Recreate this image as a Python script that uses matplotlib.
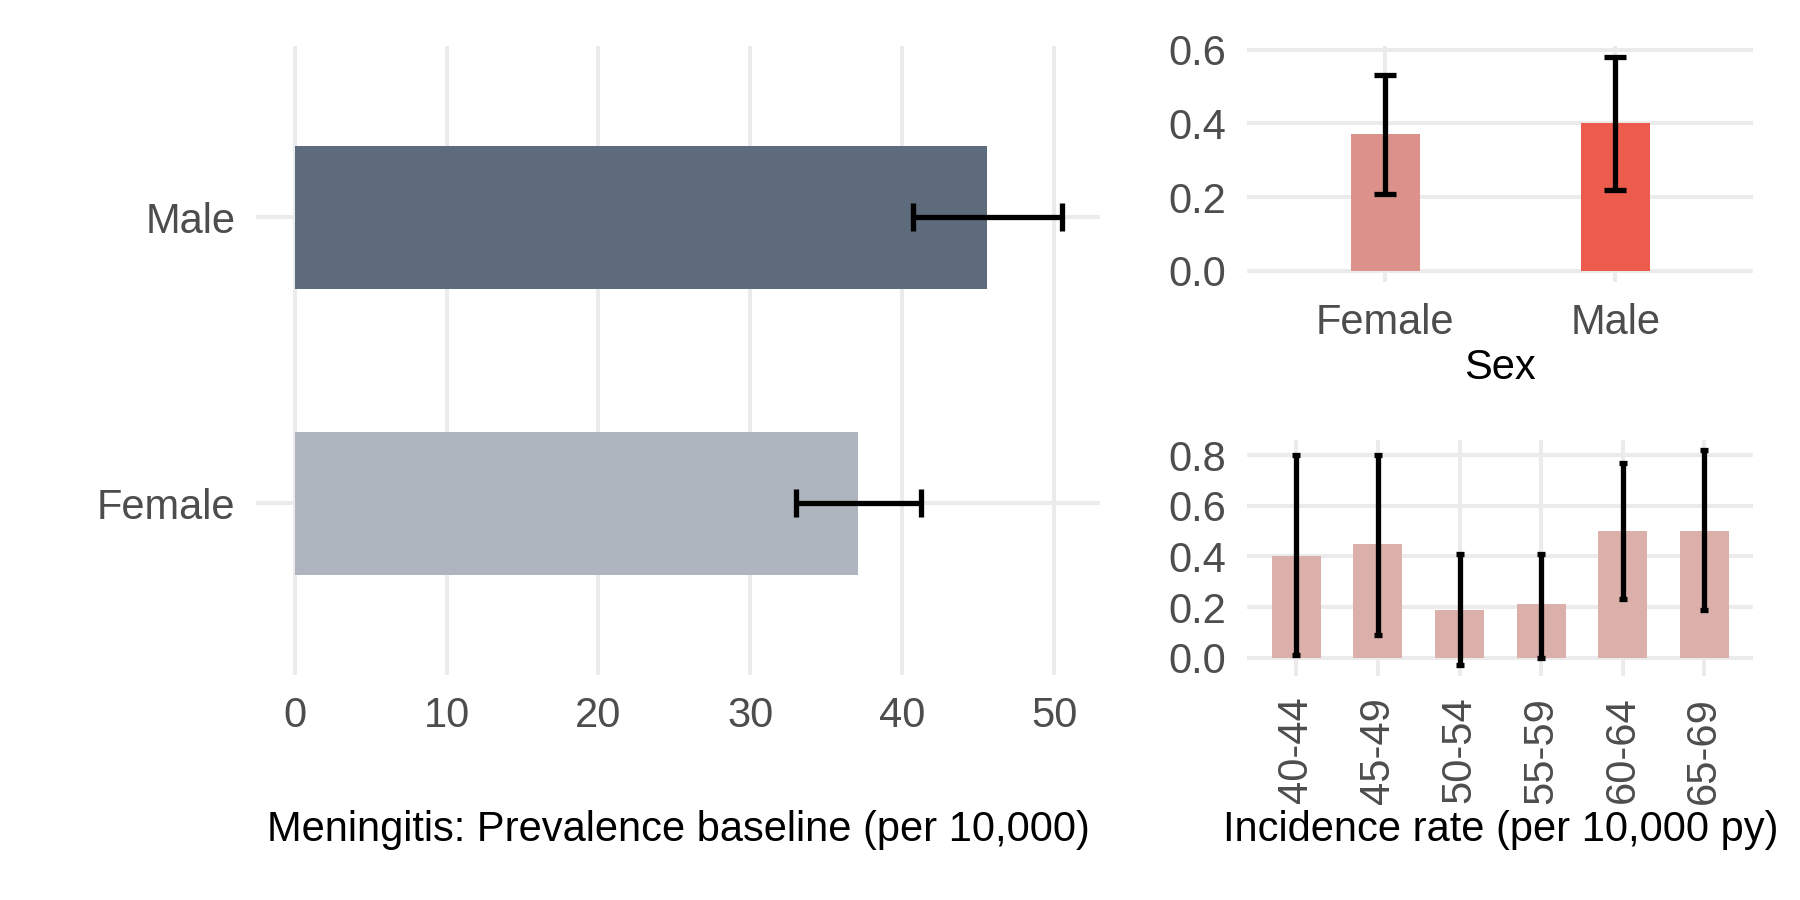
import matplotlib
matplotlib.use('Agg')
import matplotlib.pyplot as plt

plt.rcParams['font.family'] = ['Liberation Sans', 'DejaVu Sans']

# prevalence baseline (per 10,000)
prev_sex = ['Female', 'Male']
prev_val = [37.1, 45.6]
prev_lo = [33.0, 40.7]
prev_hi = [41.2, 50.5]

# incidence by sex (per 10,000 py)
inc_sex = ['Female', 'Male']
inc_sex_val = [0.37, 0.40]
inc_sex_lo = [0.21, 0.22]
inc_sex_hi = [0.53, 0.58]

# incidence by age group
age_groups = ['40-44', '45-49', '50-54', '55-59', '60-64', '65-69']
inc_age_val = [0.40, 0.45, 0.19, 0.21, 0.50, 0.50]
inc_age_lo = [0.01, 0.09, -0.03, 0.0, 0.23, 0.19]
inc_age_hi = [0.80, 0.80, 0.41, 0.41, 0.77, 0.82]

GRID = '#EBEBEB'
TICK = '#4D4D4D'
FS = 30
LW = 3.8


def style(ax):
    for s in ax.spines.values():
        s.set_visible(False)
    ax.grid(True, color=GRID, linewidth=2.9)
    ax.set_axisbelow(True)
    ax.tick_params(length=0, labelsize=FS, labelcolor=TICK, pad=15)


def fig_label(ax, text, y):
    # axis title placed at a fixed figure height, centred on the panel
    ax.set_xlabel(text, fontsize=FS, va='center')
    ax.xaxis.set_label_coords(0.5, y)
    ax.xaxis.get_label().set_transform(
        matplotlib.transforms.blended_transform_factory(ax.transAxes, fig.transFigure))


fig = plt.figure(figsize=(18, 9), dpi=100)

# left: prevalence, horizontal bars
ax1 = fig.add_axes([0.1424, 0.25, 0.4686, 0.699])
pos = [1, 2]
ax1.barh(pos, prev_val, height=0.5, color=['#AEB5BE', '#5D6B7C'], linewidth=0)
err = [[v - l for v, l in zip(prev_val, prev_lo)], [h - v for v, h in zip(prev_val, prev_hi)]]
ax1.errorbar(prev_val, pos, xerr=err, fmt='none', ecolor='black', elinewidth=LW,
             capsize=10, capthick=LW)
ax1.set_yticks(pos)
ax1.set_yticklabels(prev_sex)
ax1.set_xticks([0, 10, 20, 30, 40, 50])
ax1.set_xlim(-2.52, 53.0)
ax1.set_ylim(0.4, 2.6)
style(ax1)
fig_label(ax1, 'Meningitis: Prevalence baseline (per 10,000)', 0.078)

# top right: incidence by sex
ax2 = fig.add_axes([0.693, 0.687, 0.281, 0.262])
pos2 = [1, 2]
ax2.bar(pos2, inc_sex_val, width=0.3, color=['#DC928A', '#EC5B4B'], linewidth=0)
err2 = [[v - l for v, l in zip(inc_sex_val, inc_sex_lo)],
        [h - v for v, h in zip(inc_sex_val, inc_sex_hi)]]
ax2.errorbar(pos2, inc_sex_val, yerr=err2, fmt='none', ecolor='black', elinewidth=LW,
             capsize=8.2, capthick=LW)
ax2.set_xticks(pos2)
ax2.set_xticklabels(inc_sex)
ax2.set_yticks([0.0, 0.2, 0.4, 0.6])
ax2.set_yticklabels(['0.0', '0.2', '0.4', '0.6'])
ax2.set_xlim(0.4, 2.6)
ax2.set_ylim(-0.029, 0.61)
style(ax2)
fig_label(ax2, 'Sex', 0.591)

# bottom right: incidence by age group
ax3 = fig.add_axes([0.693, 0.249, 0.281, 0.262])
pos3 = list(range(1, len(age_groups) + 1))
ax3.bar(pos3, inc_age_val, width=0.6, color='#DCB0AA', linewidth=0)
err3 = [[v - l for v, l in zip(inc_age_val, inc_age_lo)],
        [h - v for v, h in zip(inc_age_val, inc_age_hi)]]
ax3.errorbar(pos3, inc_age_val, yerr=err3, fmt='none', ecolor='black', elinewidth=LW,
             capsize=2.7, capthick=LW)
ax3.set_xticks(pos3)
ax3.set_xticklabels(age_groups, rotation=90)
ax3.set_yticks([0.0, 0.2, 0.4, 0.6, 0.8])
ax3.set_yticklabels(['0.0', '0.2', '0.4', '0.6', '0.8'])
ax3.set_xlim(0.4, 6.6)
ax3.set_ylim(-0.072, 0.859)
style(ax3)
ax3.tick_params(axis='x', pad=15)
fig_label(ax3, 'Incidence rate (per 10,000 py)', 0.078)

fig.savefig('out.png', dpi=100, facecolor='white')
